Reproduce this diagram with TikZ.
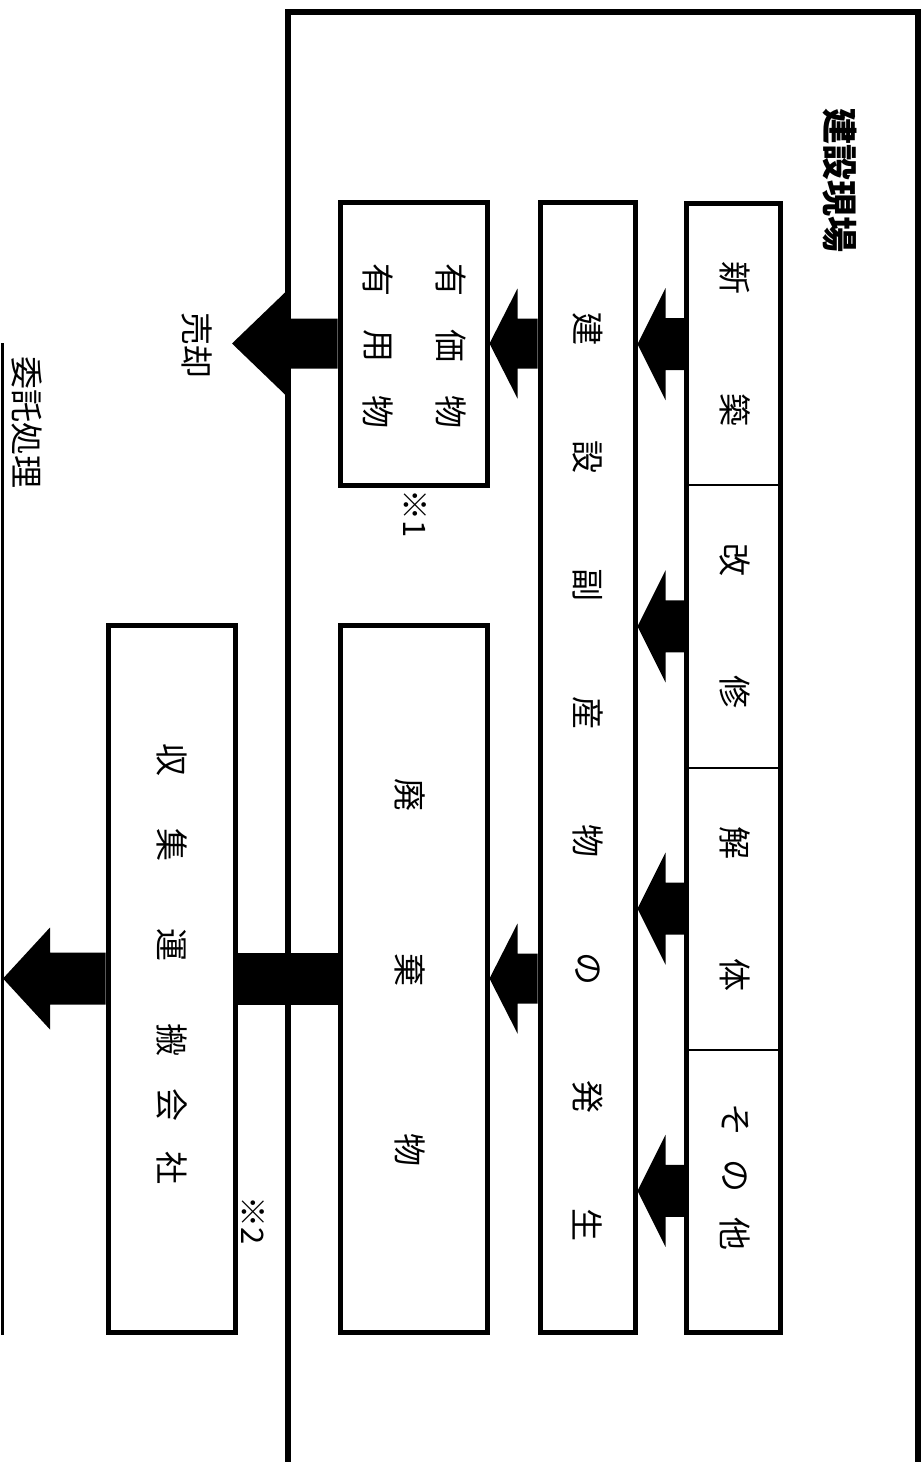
\documentclass[tikz,border=0pt]{standalone}
\usepackage{fontspec}
\newfontfamily\jp{Noto Sans CJK JP}
\usetikzlibrary{calc}
\newcommand\barrow[5]{% from, to(tip), head length, half shaft, half head
  \fill let \p1=(#1), \p2=(#2) in
    (\x1,\y2+#4pt) -- (\x2+#3pt,\y2+#4pt) -- (\x2+#3pt,\y2+#5pt) -- (\x2,\y2)
    -- (\x2+#3pt,\y2-#5pt) -- (\x2+#3pt,\y2-#4pt) -- (\x1,\y2-#4pt) -- cycle;}
\begin{document}
\begin{tikzpicture}[x=1pt,y=-1pt,
  box/.style={draw, line width=5pt, inner sep=0pt},
  seg/.style={inner sep=0pt, minimum width=94pt, minimum height=282.25pt},
  ch/.style={rotate=-90, inner sep=0pt, font=\jp\fontsize{33pt}{33pt}\selectfont},
  note/.style={rotate=-90, inner sep=0pt, font=\jp\fontsize{31pt}{31pt}\selectfont},
  title/.style={rotate=-90, inner sep=0pt, font=\jp\bfseries\fontsize{36pt}{36pt}\selectfont}]
\useasboundingbox (0,0) rectangle (923,1462);
\fill[white] (0,0) rectangle (923,1462);

% boxes
\node[box, minimum width=94pt, minimum height=1129pt] (col1) at (733,767.5) {};
\node[seg] (s1) at (733,344.1) {};
\node[seg] (s2) at (733,626.4) {};
\node[seg] (s3) at (733,908.6) {};
\node[seg] (s4) at (733,1190.9) {};
\draw[line width=2pt] (s1.south west) -- (s1.south east);
\draw[line width=2pt] (s2.south west) -- (s2.south east);
\draw[line width=2pt] (s3.south west) -- (s3.south east);
\node[box, minimum width=95pt, minimum height=1130pt] (col2) at (587.5,767) {};
\node[box, minimum width=147pt, minimum height=283pt] (yuka) at (413.5,343.5) {};
\node[box, minimum width=147pt, minimum height=707pt] (haiki) at (413.5,978.5) {};
\node[box, minimum width=127pt, minimum height=707pt] (shushu) at (171.5,978.5) {};

% arrows
\barrow{s1.west}{col2.east |- s1.west}{28}{26}{56}
\barrow{s2.west}{col2.east |- s2.west}{28}{26}{56}
\barrow{s3.west}{col2.east |- s3.west}{28}{26}{56}
\barrow{s4.west}{col2.east |- s4.west}{28}{26}{56}
\barrow{col2.west |- yuka.east}{yuka.east}{28}{25}{55}
\barrow{col2.west |- haiki.east}{haiki.east}{28}{25}{55}
\coordinate (sellTip) at (232,343.5);
\barrow{yuka.west}{sellTip}{53}{25}{51}
\fill let \p1=(haiki.west), \p2=(shushu.east) in (\x1,\y1+26pt) rectangle (\x2,\y1-26pt);
\coordinate (outTip) at (3,978.5);
\barrow{shushu.west}{outTip}{47}{26}{51}

% site frame
\draw[line width=6.5pt] (288,1470) -- (288,12) -- (918,12) -- (918,1470);
% outsourcing line
\draw[line width=3pt] (2,343) -- (2,1335);

% texts
\node[title] (t0) at (840,180) {建設現場};
\node[ch] (a1) at (735,278) {新};
\node[ch] (a2) at (735,410) {築};
\node[ch] (b1) at (735,560) {改};
\node[ch] (b2) at (735,692) {修};
\node[ch] (c1) at (735,843) {解};
\node[ch] (c2) at (735,975) {体};
\node[ch] (d1) at (735,1120) {そ};
\node[ch] (d2) at (735,1176) {の};
\node[ch] (d3) at (735,1234) {他};
\node[ch] (e1) at (588,329) {建};
\node[ch] (e2) at (588,457) {設};
\node[ch] (e3) at (588,585) {副};
\node[ch] (e4) at (588,713) {産};
\node[ch] (e5) at (588,841) {物};
\node[ch] (e6) at (588,969) {の};
\node[ch] (e7) at (588,1097) {発};
\node[ch] (e8) at (588,1225) {生};
\node[ch] (f1) at (451,280) {有};
\node[ch] (f2) at (451,346) {価};
\node[ch] (f3) at (451,412) {物};
\node[ch] (g1) at (378,280) {有};
\node[ch] (g2) at (378,346) {用};
\node[ch] (g3) at (378,412) {物};
\node[note] (n1) at (415,514) {※1};
\node[ch] (h1) at (410,795) {廃};
\node[ch] (h2) at (410,970) {棄};
\node[ch] (h3) at (410,1150) {物};
\node[ch] (k1) at (172,760) {収};
\node[ch] (k2) at (172,845) {集};
\node[ch] (k3) at (172,945) {運};
\node[ch] (k4) at (172,1040) {搬};
\node[ch] (k5) at (172,1105) {会};
\node[ch] (k6) at (172,1168) {社};
\node[note] (n2) at (253,1221) {※2};
\node[ch] (sell) at (197,345) {売却};
\node[ch] (itaku) at (27,422) {委託処理};
\end{tikzpicture}
\end{document}
